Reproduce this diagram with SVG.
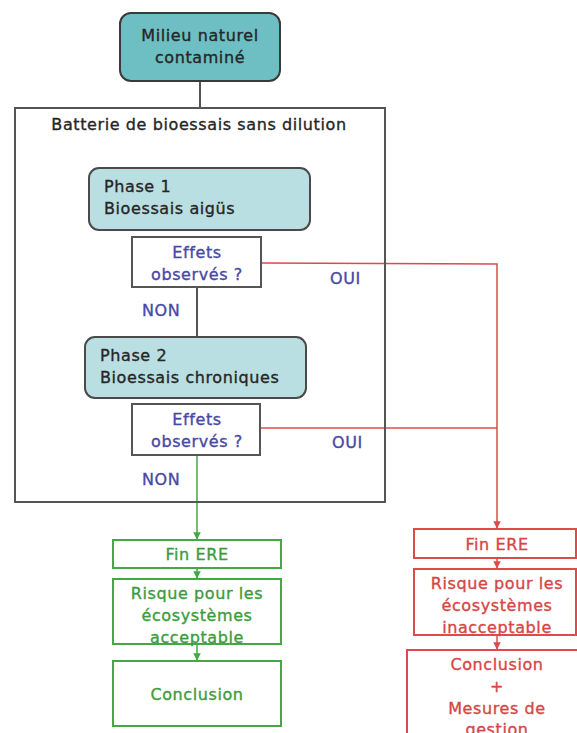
<svg xmlns="http://www.w3.org/2000/svg" width="577" height="733" viewBox="0 0 577 733">
  <style>
    text { font-family: "DejaVu Sans", "Liberation Sans", sans-serif; font-size: 16px; letter-spacing: 0.6px; stroke-width: 0.35px; }
    .dark { fill: #262626; stroke: #262626; }
    .blue { fill: #4848a6; stroke: #4848a6; }
    .green { fill: #3c9c3c; stroke: #3c9c3c; }
    .red { fill: #d64646; stroke: #d64646; }
    .mid { text-anchor: middle; }
    .gbox { fill: #ffffff; stroke: #44a844; stroke-width: 2; }
    .rbox { fill: #ffffff; stroke: #dc4b4b; stroke-width: 2; }
    .qbox { fill: #ffffff; stroke: #555555; stroke-width: 2; }
    .gray { stroke: #555555; stroke-width: 2; fill: none; }
    .gline { stroke: #44a844; stroke-width: 1.5; fill: none; }
    .rline { stroke: #dc4b4b; stroke-width: 1.5; fill: none; }
  </style>
  <defs>
    <marker id="arrG" viewBox="0 0 10 10" refX="9" refY="5" markerWidth="5" markerHeight="5" orient="auto">
      <path d="M0,0 L10,5 L0,10 Z" fill="#44a844"/>
    </marker>
    <marker id="arrR" viewBox="0 0 10 10" refX="9" refY="5" markerWidth="5" markerHeight="5" orient="auto">
      <path d="M0,0 L10,5 L0,10 Z" fill="#dc4b4b"/>
    </marker>
  </defs>

  <rect width="577" height="733" fill="#ffffff"/>

  <!-- connectors -->
  <g id="connectors">
    <line class="gray" x1="200" y1="81" x2="200" y2="108"/>
    <line class="gray" x1="197" y1="287" x2="197" y2="337"/>
    <polyline class="rline" points="261,263 497,264 497,528" marker-end="url(#arrR)"/>
    <line class="rline" x1="260" y1="428" x2="497" y2="428"/>
    <line class="gline" x1="197" y1="455" x2="197" y2="539" marker-end="url(#arrG)"/>
    <line class="gline" x1="197" y1="568" x2="197" y2="578" marker-end="url(#arrG)"/>
    <line class="gline" x1="197" y1="644" x2="197" y2="660" marker-end="url(#arrG)"/>
    <line class="rline" x1="497" y1="558" x2="497" y2="568" marker-end="url(#arrR)"/>
    <line class="rline" x1="497" y1="635" x2="497" y2="649" marker-end="url(#arrR)"/>
    <text class="blue" x="330" y="284">OUI</text>
    <text class="blue" x="332" y="448">OUI</text>
    <text class="blue" x="142" y="316">NON</text>
    <text class="blue" x="142" y="485">NON</text>
  </g>

  <g id="milieu">
    <rect x="120" y="13" width="160" height="68" rx="11" fill="#6dbfc4" stroke="#3a3a3a" stroke-width="2"/>
    <text class="dark mid" x="200" y="41">Milieu naturel</text>
    <text class="dark mid" x="200" y="63">contaminé</text>
  </g>

  <g id="batterie">
    <rect x="15" y="108" width="370" height="394" fill="none" stroke="#555555" stroke-width="2"/>
    <text class="dark mid" x="199" y="130">Batterie de bioessais sans dilution</text>
  </g>

  <g id="phase1">
    <rect x="89" y="168" width="221" height="62" rx="10" fill="#badfe2" stroke="#4a4a4a" stroke-width="2"/>
    <text class="dark" x="104" y="192">Phase 1</text>
    <text class="dark" x="104" y="214">Bioessais aigüs</text>
  </g>

  <g id="effets1">
    <rect class="qbox" x="132" y="237" width="129" height="50"/>
    <text class="blue mid" x="197" y="258">Effets</text>
    <text class="blue mid" x="197" y="280">observés ?</text>
  </g>

  <g id="phase2">
    <rect x="85" y="337" width="221" height="61" rx="10" fill="#badfe2" stroke="#4a4a4a" stroke-width="2"/>
    <text class="dark" x="100" y="361">Phase 2</text>
    <text class="dark" x="100" y="383">Bioessais chroniques</text>
  </g>

  <g id="effets2">
    <rect class="qbox" x="132" y="404" width="128" height="51"/>
    <text class="blue mid" x="197" y="425">Effets</text>
    <text class="blue mid" x="197" y="447">observés ?</text>
  </g>

  <g id="fin-vert">
    <rect class="gbox" x="113" y="540" width="168" height="28"/>
    <text class="green mid" x="197" y="560">Fin ERE</text>
  </g>

  <g id="risque-vert">
    <rect class="gbox" x="113" y="579" width="168" height="65"/>
    <text class="green mid" x="197" y="599">Risque pour les</text>
    <text class="green mid" x="197" y="621">écosystèmes</text>
    <text class="green mid" x="197" y="643">acceptable</text>
  </g>

  <g id="conclusion-vert">
    <rect class="gbox" x="113" y="661" width="168" height="65"/>
    <text class="green mid" x="197" y="700">Conclusion</text>
  </g>

  <g id="fin-rouge">
    <rect class="rbox" x="414" y="529" width="162" height="29"/>
    <text class="red mid" x="497" y="550">Fin ERE</text>
  </g>

  <g id="risque-rouge">
    <rect class="rbox" x="414" y="569" width="162" height="66"/>
    <text class="red mid" x="497" y="589">Risque pour les</text>
    <text class="red mid" x="497" y="611">écosystèmes</text>
    <text class="red mid" x="497" y="633">inacceptable</text>
  </g>

  <g id="conclusion-rouge">
    <rect class="rbox" x="407" y="650" width="180" height="100"/>
    <text class="red mid" x="497" y="670">Conclusion</text>
    <text class="red mid" x="497" y="692">+</text>
    <text class="red mid" x="497" y="714">Mesures de</text>
    <text class="red mid" x="497" y="735">gestion</text>
  </g>
</svg>
